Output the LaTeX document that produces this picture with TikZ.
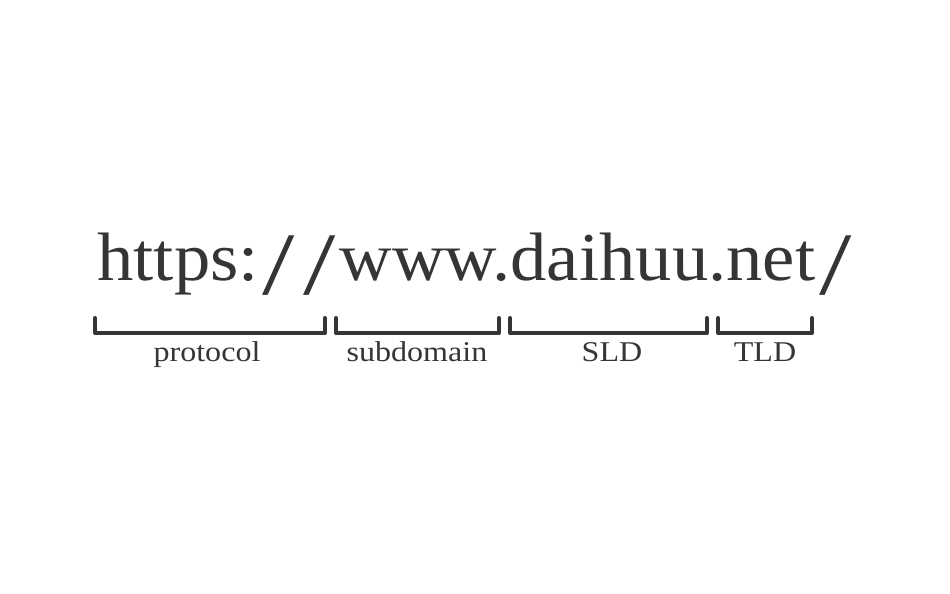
\documentclass[tikz,border=0pt]{standalone}
\usepackage{fontspec}
\setmainfont[FakeStretch=1.06]{Liberation Serif}
\newfontfamily\partfont[FakeStretch=1.12]{Liberation Serif}
\definecolor{ink}{HTML}{353535}
\newcommand\wideslash{\kern.06em\raisebox{-.2em}{\scalebox{1.6}[1.3]{/}}\kern.06em}
\tikzset{
    bracket/.style={draw=ink, line width=2.3pt, line join=round, line cap=round},
    part/.style={text=ink, font=\partfont\fontsize{16.3}{18}\selectfont, anchor=base}
}
\begin{document}
\begin{tikzpicture}[x=0.02cm, y=-0.02cm]
        \useasboundingbox (0,0) rectangle (950,594);

        \node[text=ink, anchor=base west, inner sep=0pt, font=\fontsize{39}{44}\selectfont] (url) at (97,281) {https:\wideslash\wideslash www.daihuu.net\wideslash};

        \foreach \l/\r/\c/\name/\txt in {95/325/207/protocol/protocol, 336/499/417/subdomain/subdomain, 510/707/612/sld/SLD, 718/812/765/tld/TLD}{
            \draw[bracket] (\l,318) -- (\l,333) -- (\r,333) -- (\r,318);
            \node[part] (\name) at (\c,362) {\txt};
        }
    \end{tikzpicture}
\end{document}
